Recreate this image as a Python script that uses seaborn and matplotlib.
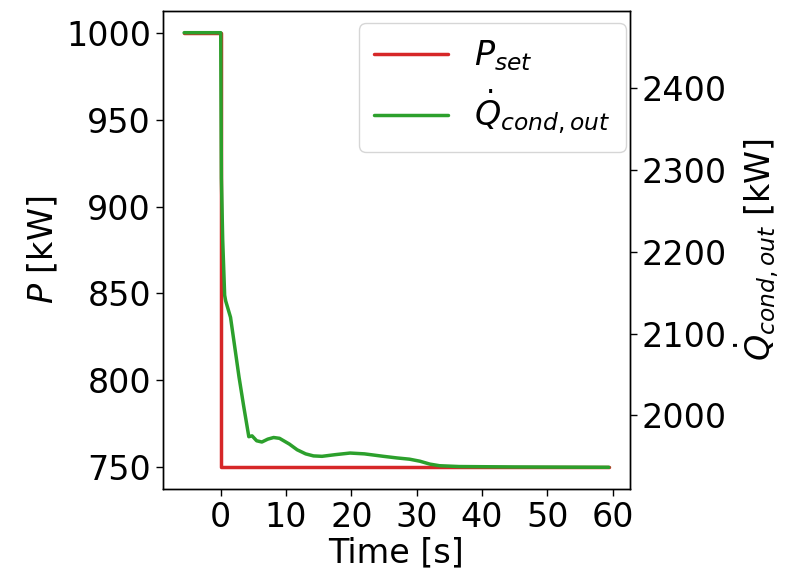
import matplotlib
matplotlib.use("Agg")
import matplotlib.pyplot as plt
import seaborn as sns
import pandas as pd

# Setpoint trajectory (step from 1000 kW to 750 kW at t = 0)
t_set = [-5.6, 0.0, 0.0, 59.4]
p_set = [1000, 1000, 750, 750]

# Condenser heat output response
t_cond = [-5.6, 0.0, 0.1, 0.3, 0.6, 0.76, 1.5, 2.0, 2.8, 3.5, 4.3, 4.8, 5.5,
          6.3, 7.2, 8.1, 9.0, 10.5, 11.7, 13.0, 14.2, 15.5, 17.5, 19.8, 22.0,
          24.9, 27.0, 28.9, 30.5, 32.0, 33.5, 36.5, 45.0, 59.4]
q_cond = [2468, 2468, 2290, 2215, 2147, 2140, 2120, 2092, 2047, 2012, 1974,
          1975, 1969, 1967.5, 1971, 1973, 1972, 1965, 1958, 1953, 1950.5,
          1950, 1952, 1954, 1953, 1950, 1948, 1946.5, 1944, 1940.5, 1938.5,
          1937.5, 1937, 1936.6]

sns.set_style("ticks")
plt.rcParams["font.family"] = ["DejaVu Sans"]
plt.rcParams["mathtext.fontset"] = "dejavusans"
plt.rcParams["text.color"] = "black"
plt.rcParams["axes.labelcolor"] = "black"
plt.rcParams["xtick.color"] = "black"
plt.rcParams["ytick.color"] = "black"
FS = 24

df_set = pd.DataFrame({"t": t_set, "P": p_set})
df_cond = pd.DataFrame({"t": t_cond, "Q": q_cond})

fig, ax = plt.subplots(figsize=(7.87, 5.77), dpi=100)
fig.subplots_adjust(left=0.207, right=0.8005, bottom=0.1525, top=0.981)
ax2 = ax.twinx()

sns.lineplot(data=df_set, x="t", y="P", ax=ax, color="#d62728", lw=2.5,
             estimator=None, sort=False, label=r"$P_{set}$", legend=False)
sns.lineplot(data=df_cond, x="t", y="Q", ax=ax2, color="#2ca02c", lw=2.5,
             estimator=None, sort=False, label=r"$\dot{Q}_{cond,out}$", legend=False)

ax.set_xticks([0, 10, 20, 30, 40, 50, 60])
ax.set_yticks([750, 800, 850, 900, 950, 1000])
ax2.set_yticks([2000, 2100, 2200, 2300, 2400])

ax.set_xlabel("Time [s]", fontsize=FS, labelpad=2)
ax.set_ylabel(r"$P$ [kW]", fontsize=FS)
ax2.set_ylabel(r"$\dot{Q}_{cond,out}$ [kW]", fontsize=FS)
for a in (ax, ax2):
    a.tick_params(labelsize=FS, length=5, width=1, colors="black")
    for s in a.spines.values():
        s.set_visible(True)
        s.set_color("black")
        s.set_linewidth(1.0)

h1, l1 = ax.get_legend_handles_labels()
h2, l2 = ax2.get_legend_handles_labels()
ax2.legend(h1 + h2, l1 + l2, loc="upper right", fontsize=FS, frameon=True,
           bbox_to_anchor=(0.991, 0.974), borderaxespad=0,
           handlelength=2.2, handletextpad=0.8, labelspacing=0.45,
           borderpad=0.45)

fig.savefig("out.png", dpi=100)
